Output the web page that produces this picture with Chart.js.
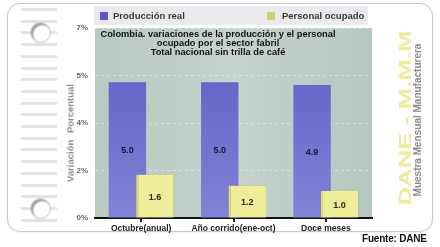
<!DOCTYPE html>
<html>
<head>
<meta charset="utf-8">
<script src="https://cdn.jsdelivr.net/npm/chart.js@4"></script>
<style>
  body { margin: 0; background: #fff; font-family: "Liberation Sans", Arial, sans-serif; }
  #wrap { position: relative; width: 440px; height: 247px; overflow: hidden; }
  #card { position: absolute; left: 7px; top: 3px; width: 424px; height: 227px; border: 1px solid #c9c9c9; border-radius: 13px; background: #fff; box-shadow: 0 1px 2px rgba(0,0,0,0.08); }
  .stripe { position: absolute; left: 21px; width: 36px; height: 3px; background: #e0e4e4; }
  .ring { position: absolute; width: 19px; height: 19px; border-radius: 50%; background: #fff; box-shadow: inset 2px 2px 2px rgba(0,0,0,0.4); border: 1px solid #c4c4c4; }
  canvas { position: absolute; left: 0; top: 0; }
  #legend { position: absolute; left: 94px; top: 6px; width: 274px; height: 19px; background: #e9e9ee; font-size: 9.5px; font-weight: bold; color: #3a3a3a; }
  .sw { position: absolute; top: 6px; width: 8px; height: 8px; }
  .lt { position: absolute; top: 4px; white-space: nowrap; }
  #title { position: absolute; left: 98px; top: 30px; width: 240px; text-align: center; font-size: 9.3px; line-height: 9px; font-weight: bold; color: #111; }
  #ytitle { position: absolute; left: 70px; top: 133px; transform: translate(-50%, -50%) rotate(-90deg); font-size: 9.5px; font-weight: bold; color: #8a8a8a; white-space: nowrap; word-spacing: 4px; }
  #dane { position: absolute; left: 406px; top: 118px; transform: translate(-50%, -50%) rotate(-90deg) scaleX(1.52); font-size: 17px; font-weight: bold; color: #ecec9c; white-space: nowrap; }
  #mmm { position: absolute; left: 417px; top: 120px; transform: translate(-50%, -50%) rotate(-90deg); font-size: 10px; font-weight: bold; color: #8c8c8c; white-space: nowrap; }
  #fuente { position: absolute; left: 362px; top: 233px; font-size: 10px; font-weight: bold; color: #111; white-space: nowrap; letter-spacing: -0.2px; }
</style>
</head>
<body>
<div id="wrap">
  <div id="card"></div>
  <div id="stripes"></div>
  <div class="ring" style="left:30px;top:22px"></div>
  <div class="ring" style="left:30px;top:198px"></div>
  <canvas id="chart" width="440" height="247"></canvas>
  <div id="legend">
    <div class="sw" style="left:6px;background:#5a55c8"></div>
    <div class="lt" style="left:19px">Producción real</div>
    <div class="sw" style="left:173px;background:#cfd070"></div>
    <div class="lt" style="left:188px">Personal ocupado</div>
  </div>
  <div id="title">Colombia. variaciones de la producción y el personal<br>ocupado por el sector fabril<br>Total nacional sin trilla de café</div>
  <div id="ytitle">Variación Porcentual</div>
  <div id="dane">DANE - M.M.M</div>
  <div id="mmm">Muestra Mensual Manufacturera</div>
  <div id="fuente">Fuente: DANE</div>
</div>
<script>
const categories = ['Octubre(anual)', 'Año corrido(ene-oct)', 'Doce meses'];
const produccion = [5.0, 5.0, 4.9];
const personal = [1.6, 1.2, 1.0];
const yMax = 7;
const yStep = 1.75;

// binder stripes on the left
const stripes = document.getElementById('stripes');
for (let i = 0; i < 19; i++) {
  const s = document.createElement('div');
  s.className = 'stripe';
  s.style.top = (8 + i * 11.7) + 'px';
  stripes.appendChild(s);
}

function vGrad(ctx, area, top, bottom) {
  const g = ctx.createLinearGradient(0, area.top, 0, area.bottom);
  g.addColorStop(0, top);
  g.addColorStop(1, bottom);
  return g;
}

const plotBg = {
  id: 'plotBg',
  beforeDraw(chart) {
    const { ctx, chartArea: a } = chart;
    ctx.save();
    const g = ctx.createLinearGradient(a.left, 0, a.right, 0);
    g.addColorStop(0, '#b9c8c1');
    g.addColorStop(0.5, '#c7d3cd');
    g.addColorStop(1, '#b6c6be');
    ctx.fillStyle = g;
    ctx.fillRect(a.left, a.top, a.right - a.left, a.bottom - a.top);
    ctx.restore();
  }
};

const frontAndLabels = {
  id: 'frontAndLabels',
  afterDatasetsDraw(chart) {
    const ctx = chart.ctx;
    // personal ocupado sits in front of the production bars
    ctx.save();
    ctx.shadowColor = 'rgba(0,0,0,0.35)';
    ctx.shadowBlur = 4;
    ctx.shadowOffsetX = 2;
    chart.getDatasetMeta(1).controller.draw();
    ctx.restore();

    ctx.save();
    ctx.font = 'bold 9px "Liberation Sans", Arial, sans-serif';
    ctx.textAlign = 'center';
    ctx.textBaseline = 'middle';
    [0, 1].forEach(d => {
      const meta = chart.getDatasetMeta(d);
      const vals = chart.data.datasets[d].data;
      meta.data.forEach((bar, i) => {
        ctx.fillStyle = d === 0 ? '#15153a' : '#2a2a10';
        ctx.fillText(vals[i].toFixed(1), bar.x, (bar.y + bar.base) / 2 + 1);
      });
    });
    ctx.restore();
  }
};

new Chart(document.getElementById('chart'), {
  type: 'bar',
  data: {
    labels: categories,
    datasets: [
      {
        label: 'Producción real',
        data: produccion,
        backgroundColor: c => c.chart.chartArea ? vGrad(c.chart.ctx, c.chart.chartArea, '#5f59c4', '#8282d6') : '#6a64c8',
        borderWidth: 0,
        categoryPercentage: 0.596,
        barPercentage: 1.36
      },
      {
        label: 'Personal ocupado',
        data: personal,
        backgroundColor: c => {
          const bar = c.element;
          if (!c.chart.chartArea || !bar) return '#d6d68a';
          const g = c.chart.ctx.createLinearGradient(0, bar.y || 0, 0, bar.base || 1);
          g.addColorStop(0, '#aaa57a');
          g.addColorStop(0.45, '#d4d48c');
          g.addColorStop(1, '#eeee9a');
          return g;
        },
        borderColor: '#e8e860',
        borderWidth: { left: 2, top: 0, right: 0, bottom: 0 },
        categoryPercentage: 0.596,
        barPercentage: 1.36
      }
    ]
  },
  options: {
    responsive: false,
    animation: false,
    layout: { padding: { left: 0, right: 68, top: 28, bottom: 0 } },
    plugins: { legend: { display: false }, tooltip: { enabled: false } },
    scales: {
      x: {
        afterFit: s => { s.height = 29; },
        grid: { offset: false, drawOnChartArea: false, drawTicks: true, tickLength: 4, color: '#222', lineWidth: 2 },
        border: { display: true, color: '#111', width: 2 },
        ticks: {
          color: '#222', padding: 2, maxRotation: 0, minRotation: 0, autoSkip: false,
          font: { size: 8.5, weight: 'bold', family: '"Liberation Sans", Arial, sans-serif' }
        }
      },
      y: {
        min: 0,
        max: yMax,
        afterFit: s => { s.width = 95; },
        afterBuildTicks: s => {
          s.ticks = [];
          for (let v = 0; v <= yMax + 1e-9; v += yStep) s.ticks.push({ value: v });
        },
        border: { display: false, dash: [3, 3] },
        grid: { drawTicks: false, color: c => c.tick.value === 0 ? 'rgba(0,0,0,0)' : 'rgba(235,240,238,0.6)', lineWidth: 1 },
        ticks: {
          padding: 7,
          color: '#666',
          font: { size: 8, weight: 'bold', family: '"Liberation Sans", Arial, sans-serif' },
          callback: v => Math.round(v) + '%'
        }
      }
    }
  },
  plugins: [plotBg, frontAndLabels]
});
</script>
</body>
</html>
